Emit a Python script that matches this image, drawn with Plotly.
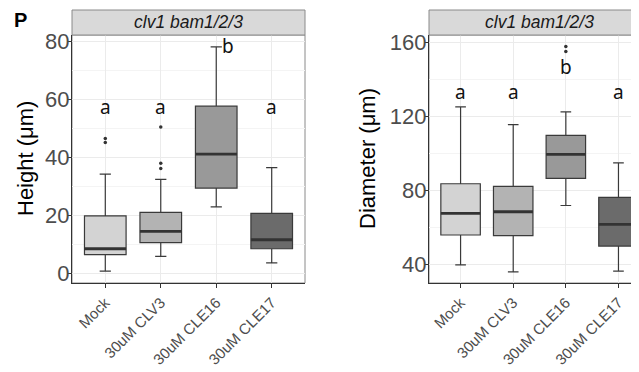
import plotly.graph_objects as go

categories = ["Mock", "30uM CLV3", "30uM CLE16", "30uM CLE17"]
fills = ["#D3D3D3", "#B3B3B3", "#999999", "#6B6B6B"]

# Height panel stats
h_low = [0.9, 6.0, 23.0, 3.7]
h_q1 = [6.6, 10.7, 29.5, 8.6]
h_med = [8.6, 14.6, 41.2, 11.7]
h_q3 = [19.9, 21.1, 57.7, 20.8]
h_high = [34.3, 32.5, 78.1, 36.5]
h_out = [[46.6, 45.2], [50.5, 38.0, 36.2], [], []]
h_letters = ["a", "a", "b", "a"]
h_letter_y = [57.4, 57.4, 78.3, 57.4]
h_letter_dx = [0, 0, 0.21, 0]
h_ticks = [0, 20, 40, 60, 80]
h_minor = [10, 30, 50, 70]

# Diameter panel stats
d_low = [39.6, 35.8, 71.8, 36.2]
d_q1 = [55.8, 55.5, 86.5, 49.8]
d_med = [67.5, 68.4, 99.5, 61.6]
d_q3 = [83.6, 82.2, 109.8, 76.2]
d_high = [125.3, 115.6, 122.5, 94.9]
d_out = [[], [], [158.0, 155.3], []]
d_letters = ["a", "a", "b", "a"]
d_letter_y = [133.4, 133.4, 147.1, 133.4]
d_letter_dx = [0, 0, 0, 0]
d_ticks = [40, 80, 120, 160]
d_minor = [60, 100, 140]

FONT = "Liberation Sans"
OFF = 8  # page body margin
W, H = 639 - OFF, 372 - OFF
fig = go.Figure()

panels = [
    ("x", "y", h_low, h_q1, h_med, h_q3, h_high, h_out, h_letters, h_letter_y, h_letter_dx),
    ("x2", "y2", d_low, d_q1, d_med, d_q3, d_high, d_out, d_letters, d_letter_y, d_letter_dx),
]
pos = [1, 2, 3, 4]
for xa, ya, lo, q1, md, q3, hi, outs, lets, ly, ldx in panels:
    for i in range(4):
        fig.add_trace(go.Box(
            x=[pos[i]], q1=[q1[i]], median=[md[i]], q3=[q3[i]],
            lowerfence=[lo[i]], upperfence=[hi[i]],
            width=0.75, whiskerwidth=0.27,
            fillcolor=fills[i], line=dict(color="#3a3a3a", width=1.2),
            xaxis=xa, yaxis=ya, showlegend=False, hoverinfo="skip",
        ))
        # thick median line
        fig.add_trace(go.Scatter(
            x=[pos[i] - 0.375, pos[i] + 0.375], y=[md[i], md[i]],
            mode="lines", line=dict(color="#333333", width=2.8),
            xaxis=xa, yaxis=ya, showlegend=False, hoverinfo="skip",
        ))
        if outs[i]:
            fig.add_trace(go.Scatter(
                x=[pos[i]] * len(outs[i]), y=outs[i], mode="markers",
                marker=dict(color="#333333", size=3.5),
                xaxis=xa, yaxis=ya, showlegend=False, hoverinfo="skip",
            ))
        fig.add_annotation(
            x=pos[i] + ldx[i], y=ly[i], xref=xa, yref=ya, text=lets[i],
            xanchor="center", yanchor="middle",
            showarrow=False, font=dict(family="Noto Sans", size=19, color="#111111"),
        )

def px_x(p):
    return (p - OFF) / W

def px_y(p):
    return 1 - (p - OFF) / H

y_dom = [px_y(283), px_y(35)]
x1_dom = [px_x(72), px_x(305)]
x2_dom = [px_x(429), 1.0]

common_y = dict(
    showgrid=True, gridcolor="#EBEBEB", gridwidth=1, automargin=False,
    zeroline=False, showline=True, linecolor="#333333", linewidth=1.3,
    ticks="outside", ticklen=4, tickcolor="#333333", tickwidth=1,
    ticklabelstandoff=-7,
    tickfont=dict(family=FONT, size=22, color="#4D4D4D"),
    domain=y_dom,
)
common_x = dict(
    showgrid=True, gridcolor="#EBEBEB", gridwidth=1, automargin=False,
    zeroline=False, showline=True, linecolor="#333333", linewidth=1.3,
    ticks="outside", ticklen=4, tickcolor="#333333", tickwidth=1,
    tickvals=pos, ticktext=categories, tickangle=-45,
    tickfont=dict(family=FONT, size=15, color="#4D4D4D"),
)

fig.update_layout(
    width=W, height=H,
    margin=dict(l=0, r=0, t=0, b=0, pad=0, autoexpand=False),
    paper_bgcolor="white", plot_bgcolor="white",
    xaxis=dict(common_x, domain=x1_dom, range=[0.4, 4.6], anchor="y"),
    yaxis=dict(common_y, range=[-3.2, 82.2], tickvals=h_ticks, anchor="x",
               minor=dict(tickvals=h_minor, showgrid=True, gridcolor="#F4F4F4", ticks="")),
    xaxis2=dict(common_x, domain=x2_dom, range=[0.4, 4.39], anchor="y2"),
    yaxis2=dict(common_y, range=[29.8, 164.2], tickvals=d_ticks, anchor="x2",
                minor=dict(tickvals=d_minor, showgrid=True, gridcolor="#F4F4F4", ticks="")),
)

# panel borders and strips
for xd in (x1_dom, x2_dom):
    fig.add_shape(type="rect", xref="paper", yref="paper",
                  x0=xd[0], x1=xd[1], y0=y_dom[0], y1=y_dom[1],
                  line=dict(color="#8a8a8a", width=1), fillcolor="rgba(0,0,0,0)", layer="below")
    fig.add_shape(type="rect", xref="paper", yref="paper",
                  x0=xd[0], x1=xd[1], y0=y_dom[1], y1=px_y(10),
                  line=dict(color="#8a8a8a", width=1), fillcolor="#D9D9D9")

strip_y = (y_dom[1] + px_y(10)) / 2
fig.add_annotation(x=(x1_dom[0] + x1_dom[1]) / 2, y=strip_y,
                   xref="paper", yref="paper", text="<i>clv1 bam1/2/3</i>", showarrow=False,
                   xanchor="center", yanchor="middle",
                   font=dict(family=FONT, size=17.5, color="#1A1A1A"))
fig.add_annotation(x=(px_x(429) + px_x(650)) / 2, y=strip_y,
                   xref="paper", yref="paper", text="<i>clv1 bam1/2/3</i>", showarrow=False,
                   xanchor="center", yanchor="middle",
                   font=dict(family=FONT, size=17.5, color="#1A1A1A"))

# axis titles
ymid = (y_dom[0] + y_dom[1]) / 2
fig.add_annotation(x=px_x(25), y=ymid, xref="paper", yref="paper",
                   text="Height (μm)", textangle=-90, showarrow=False,
                   xanchor="center", yanchor="middle",
                   font=dict(family=FONT, size=22, color="#000000"))
fig.add_annotation(x=px_x(367), y=ymid, xref="paper", yref="paper",
                   text="Diameter (μm)", textangle=-90, showarrow=False,
                   xanchor="center", yanchor="middle",
                   font=dict(family=FONT, size=22, color="#000000"))
# panel label
fig.add_annotation(x=px_x(20), y=px_y(20), xref="paper", yref="paper",
                   text="<b>P</b>", showarrow=False,
                   xanchor="center", yanchor="middle",
                   font=dict(family=FONT, size=20, color="#000000"))

fig.write_html("out.html")
